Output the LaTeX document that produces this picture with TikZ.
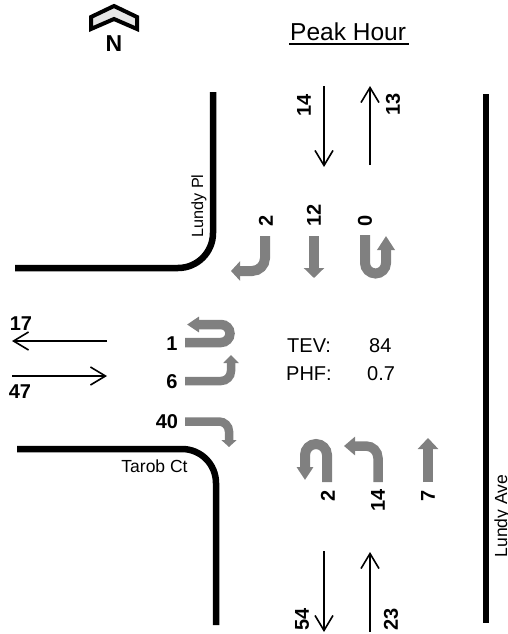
\documentclass[tikz,border=0pt]{standalone}
\usepackage{fontspec}
\setmainfont{Liberation Sans}
\usetikzlibrary{arrows.meta}
\definecolor{arrowgray}{gray}{0.5}
\tikzset{
  road/.style={line width=6.5pt,line cap=butt,line join=round,black},
  flow/.style={line width=1.6pt,black,-{Straight Barb[length=15pt,width=18pt,line width=1.6pt]}},
  turn/.style={line width=10pt,arrowgray},
  turnhead/.style 2 args={-{Triangle[length=#1,width=#2]}},
  vol/.style={font=\fontsize{20}{20}\selectfont\bfseries,inner sep=0pt},
  volr/.style={vol,rotate=90},
  info/.style={font=\fontsize{20}{20}\selectfont,inner sep=0pt,anchor=base west},
  street/.style={font=\fontsize{17.5}{17.5}\selectfont,inner sep=0pt,anchor=base}
}
\begin{document}
\begin{tikzpicture}[x=1pt,y=-1pt]
\useasboundingbox (0,0) rectangle (507,634);
% north arrow
\draw[line width=4pt,fill=gray!20,miter limit=10] (91,29) -- (91,17) -- (114,6) -- (137,17) -- (137,29) -- (114,19) -- cycle;
\node[vol,font=\fontsize{23}{23}\selectfont\bfseries] (north) at (114,44) {N};
% title
\node[info,font=\fontsize{24.5}{24.5}\selectfont] (title) at (290,41) {Peak Hour};
\draw[line width=1.5pt] (289,44) -- (409,44);
% roads
\draw[road] (15,268) -- (178,268) arc[start angle=90,end angle=0,radius=35] -- (213,92);
\draw[road] (17,449) -- (182,449) arc[start angle=-90,end angle=0,radius=34] -- (216,625);
\draw[road] (486,94) -- (486,623);
% flows
\draw[flow] (324,86) -- (324,167);
\draw[flow] (370,165) -- (370,86);
\draw[flow] (324,551) -- (324,632);
\draw[flow] (370,632) -- (370,552);
\draw[flow] (107,341) -- (12,341);
\draw[flow] (12,376) -- (107,376);
% turning movements
\draw[turn,turnhead={9pt}{19pt}] (265,236) -- (265,258) arc[start angle=0,end angle=90,radius=13] -- (231,271);
\draw[turn,turnhead={10pt}{20pt}] (314,236) -- (314,278);
\draw[turn,turnhead={14pt}{17pt}] (365,235) -- (365,263) arc[start angle=180,end angle=0,radius=10.5] -- (386,236);
\draw[turn,line width=9.5pt,turnhead={12pt}{15pt}] (185,342.5) -- (221,342.5) arc[start angle=90,end angle=-90,radius=9] -- (187,324.5);
\draw[turn,line width=8.5pt,turnhead={8pt}{15pt}] (185,381) -- (221,381) arc[start angle=90,end angle=0,radius=10] -- (231,355);
\draw[turn,line width=8.5pt,turnhead={7pt}{15pt}] (185,421.5) -- (219,421.5) arc[start angle=-90,end angle=0,radius=10] -- (229,447);
\draw[turn,turnhead={13pt}{16pt}] (327,482) -- (327,455) arc[start angle=0,end angle=-180,radius=11] -- (305,480);
\draw[turn,line width=9.5pt,turnhead={11pt}{18pt}] (378,482) -- (378,458) arc[start angle=0,end angle=-90,radius=12] -- (344,446);
\draw[turn,line width=9.5pt,turnhead={11pt}{20pt}] (428,482) -- (428,438);
% volumes
\node[vol] (wa) at (21,324) {17};
\node[vol] (wb) at (20,392) {47};
\node[vol] (ea) at (172,344) {1};
\node[vol] (eb) at (172,382) {6};
\node[vol] (ec) at (167,422) {40};
\node[volr] (sa) at (266,221) {2};
\node[volr] (sb) at (314,215) {12};
\node[volr] (sc) at (365,221) {0};
\node[volr] (na) at (328,496) {2};
\node[volr] (nb) at (378,500) {14};
\node[volr] (nc) at (428,496) {7};
\node[volr] (ta) at (304,105) {14};
\node[volr] (tb) at (393,104) {13};
\node[volr] (ba) at (302,619) {54};
\node[volr] (bb) at (391,619) {23};
% centre info
\node[info] (tev) at (287,352) {TEV:};
\node[info] (tevv) at (369,352) {84};
\node[info] (phf) at (286,380) {PHF:};
\node[info] (phfv) at (367,380) {0.7};
% street names
\node[street,rotate=90,font=\fontsize{16.2}{16.2}\selectfont] (lp) at (203,206) {Lundy Pl};
\node[street] (tc) at (154.5,472) {Tarob Ct};
\node[street,rotate=90] (la) at (507,516) {Lundy Ave};
\end{tikzpicture}
\end{document}
